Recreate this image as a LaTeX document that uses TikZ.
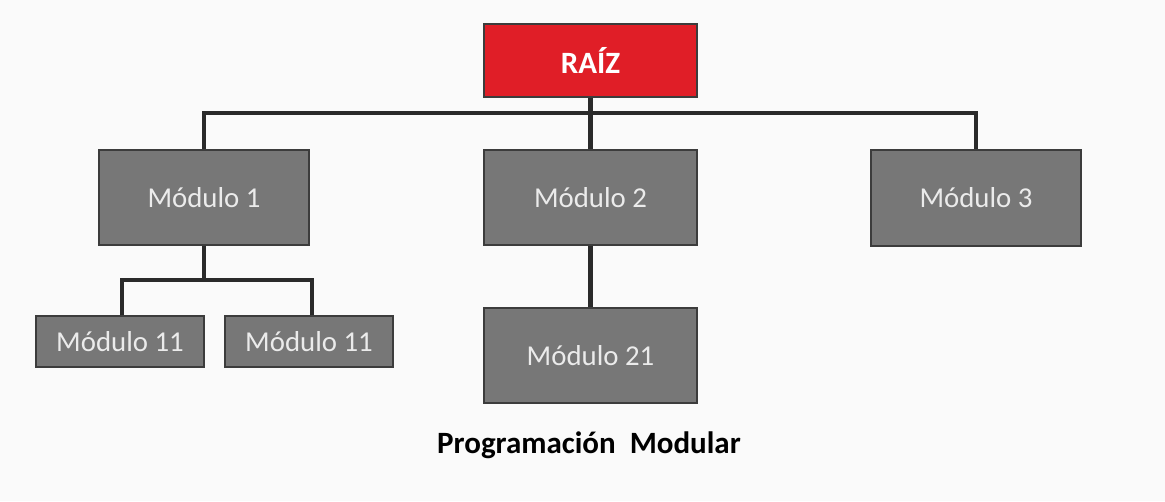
\documentclass[tikz,border=0pt]{standalone}
\usepackage{fontspec}
\setmainfont{Carlito}
\definecolor{modgray}{HTML}{777777}
\definecolor{rootred}{HTML}{E01E27}
\definecolor{edgegray}{HTML}{3C3C3C}
\definecolor{linec}{HTML}{2A2A2A}
\begin{document}
\begin{tikzpicture}[x=1pt,y=-1pt,
  box/.style={draw=edgegray,line width=1.3pt,fill=modgray,text=white!92!black,inner sep=0pt,font=\fontsize{28.8}{31}\selectfont},
  rootbox/.style={draw=edgegray,line width=1.3pt,fill=rootred,text=white,inner sep=0pt,font=\fontsize{31}{33}\selectfont\bfseries},
  conn/.style={draw=linec,line width=4.5pt}]
\fill[white!98!black] (0,0) rectangle (1165,501);
\useasboundingbox (0,0) rectangle (1165,501);
\node[rootbox,minimum width=213pt,minimum height=73pt] (root) at (590.5,60.5) {RAÍZ};
\node[box,minimum width=210pt,minimum height=95pt] (m1) at (204,197.5) {Módulo 1};
\node[box,minimum width=213pt,minimum height=95pt] (m2) at (590.5,197.5) {Módulo 2};
\node[box,minimum width=210pt,minimum height=96pt] (m3) at (976,198) {Módulo 3};
\node[box,minimum width=168pt,minimum height=51pt] (m11a) at (120,341.5) {Módulo 11};
\node[box,minimum width=168pt,minimum height=51pt] (m11b) at (309,341.5) {Módulo 11};
\node[box,minimum width=213pt,minimum height=95pt] (m21) at (590.5,355.5) {Módulo 21};
\node[font=\fontsize{31}{33}\selectfont\bfseries] (cap) at (589,445) {Programación\ \ Modular};
\coordinate (bus) at (590.5,113);
\coordinate (bus1) at (204,280);
\draw[conn] (root.south) -- (m2.north);
\draw[conn] (m1.north) |- (bus) -| (m3.north);
\draw[conn] (m1.south) -- (bus1);
\draw[conn] (m11a.north -| 122,0) |- (bus1) -| (m11b.north -| 312,0);
\draw[conn] (m2.south) -- (m21.north);
\end{tikzpicture}
\end{document}
